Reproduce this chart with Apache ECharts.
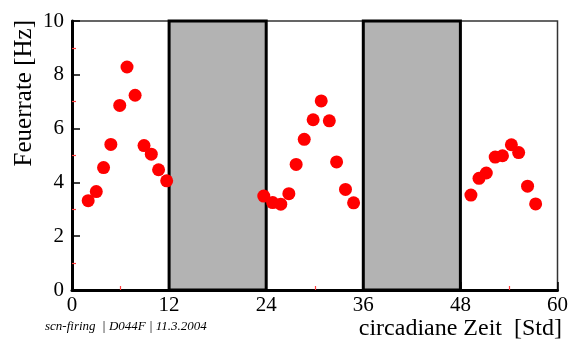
<!DOCTYPE html>
<html>
<head>
<meta charset="utf-8">
<script src="https://cdn.jsdelivr.net/npm/echarts@6/dist/echarts.min.js"></script>
<style>
  html, body { margin: 0; padding: 0; background: #fff; }
  #chart { width: 571px; height: 345px; }
</style>
</head>
<body>
<div id="chart"></div>
<script>
// circadian time [h] and firing rate [Hz]
const zeit = [
  2.0, 3.0, 3.9, 4.8, 5.9, 6.8, 7.8, 8.9, 9.8, 10.7, 11.7,
  23.7, 24.8, 25.8, 26.8, 27.7, 28.7, 29.8, 30.8, 31.8, 32.7, 33.8, 34.8,
  49.3, 50.3, 51.2, 52.3, 53.2, 54.3, 55.2, 56.3, 57.3
];
const feuerrate = [
  3.32, 3.66, 4.55, 5.41, 6.86, 8.29, 7.24, 5.37, 5.05, 4.47, 4.06,
  3.49, 3.25, 3.19, 3.58, 4.67, 5.6, 6.33, 7.03, 6.29, 4.76, 3.74, 3.24,
  3.53, 4.15, 4.35, 4.94, 4.99, 5.4, 5.11, 3.86, 3.2
];
// subjective night intervals (gray)
const nacht = [[12, 24], [36, 48]];
const xTicks = [0, 12, 24, 36, 48, 60];
const yTicks = [0, 2, 4, 6, 8, 10];

const chart = echarts.init(document.getElementById('chart'));
const serif = '"Liberation Serif", "DejaVu Serif", serif';

const option = {
  animation: false,
  backgroundColor: '#fff',
  grid: {
    left: 72, right: 13, top: 21, bottom: 55,
    show: true,
    borderColor: '#333',
    borderWidth: 1.5
  },
  xAxis: {
    type: 'value',
    min: xTicks[0],
    max: xTicks[xTicks.length - 1],
    interval: 12,
    axisLine: { show: true, onZero: false, lineStyle: { color: '#000', width: 3 } },
    axisTick: { show: true, inside: true, length: 8, lineStyle: { color: '#000', width: 1.5 } },
    minorTick: { show: true, splitNumber: 2, length: 4, lineStyle: { color: '#ff4040', width: 1.2 } },
    axisLabel: { fontFamily: serif, fontSize: 21, color: '#000', margin: 5 },
    splitLine: { show: false }
  },
  yAxis: {
    type: 'value',
    min: yTicks[0],
    max: yTicks[yTicks.length - 1],
    interval: 2,
    axisLine: { show: true, onZero: false, lineStyle: { color: '#000', width: 3 } },
    axisTick: { show: true, inside: true, length: 8, lineStyle: { color: '#000', width: 1.5 } },
    minorTick: { show: true, splitNumber: 2, length: 4, lineStyle: { color: '#ff4040', width: 1.2 } },
    axisLabel: { fontFamily: serif, fontSize: 21, color: '#000', margin: 8 },
    splitLine: { show: false }
  },
  series: [
    {
      type: 'line',
      data: [],
      z: 1,
      markArea: {
        silent: true,
        itemStyle: { color: '#b3b3b3', borderColor: '#000', borderWidth: 3 },
        data: nacht.map(([a, b]) => [{ xAxis: a, yAxis: 0 }, { xAxis: b, yAxis: 10 }])
      }
    },
    {
      type: 'scatter',
      z: 5,
      symbol: 'circle',
      symbolSize: 13,
      itemStyle: { color: '#ff0000', opacity: 1 },
      data: zeit.map((x, i) => [x, feuerrate[i]])
    }
  ],
  graphic: [
    {
      type: 'text',
      left: 12, top: 20,
      rotation: Math.PI / 2,
      style: { text: 'Feuerrate [Hz]', font: '25px ' + serif, fill: '#000' },
      originX: 0, originY: 0
    },
    {
      type: 'text',
      right: 9, top: 317,
      style: { text: 'circadiane Zeit  [Std]', font: '24px ' + serif, fill: '#000' }
    },
    {
      type: 'text',
      left: 45, top: 320,
      style: { text: 'scn-firing  | D044F | 11.3.2004', font: 'italic 13px ' + serif, fill: '#000' }
    }
  ]
};

chart.setOption(option);
</script>
</body>
</html>
